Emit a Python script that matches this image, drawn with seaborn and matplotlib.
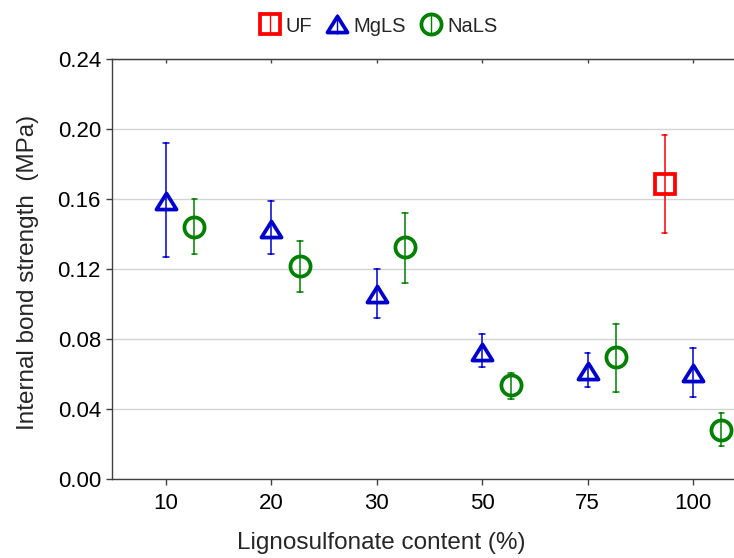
import numpy as np
import pandas as pd
import matplotlib
matplotlib.use("Agg")
import matplotlib.pyplot as plt
from matplotlib.lines import Line2D
from matplotlib.path import Path
import seaborn as sns

# categories on the x axis
contents = ["10", "20", "30", "50", "75", "100"]
resins = ["UF", "MgLS", "NaLS"]

# internal bond strength (MPa): mean, lower and upper end of error bar
mgls_mean = [0.159, 0.143, 0.106, 0.073, 0.062, 0.061]
mgls_low = [0.127, 0.129, 0.092, 0.064, 0.053, 0.047]
mgls_high = [0.192, 0.159, 0.120, 0.083, 0.072, 0.075]

nals_mean = [0.144, 0.122, 0.133, 0.054, 0.070, 0.028]
nals_low = [0.129, 0.107, 0.112, 0.046, 0.050, 0.019]
nals_high = [0.160, 0.136, 0.152, 0.061, 0.089, 0.038]

uf_content = ["100"]
uf_mean = [0.169]
uf_low = [0.141]
uf_high = [0.197]

colors = {"UF": "#FF0000", "MgLS": "#0000CC", "NaLS": "#008000"}
markers = {"UF": "s", "MgLS": "^", "NaLS": "o"}


def long_rows(resin, xs, low, mean, high):
    # three rows per point, the median is the mean and min/max are the error bar ends
    rows = []
    for x, lo, m, hi in zip(xs, low, mean, high):
        for v in (lo, m, hi):
            rows.append({"content": x, "resin": resin, "ibs": v})
    return rows


df = pd.DataFrame(
    long_rows("UF", uf_content, uf_low, uf_mean, uf_high)
    + long_rows("MgLS", contents, mgls_low, mgls_mean, mgls_high)
    + long_rows("NaLS", contents, nals_low, nals_mean, nals_high)
)

sns.set_style("ticks")
plt.rcParams["font.family"] = ["Liberation Sans", "DejaVu Sans"]

fig = plt.figure(figsize=(7.34, 5.58), dpi=100)
ax = fig.add_axes([112 / 734, 1 - 479.3 / 558, (734 - 112) / 734, (479.3 - 59.3) / 558])

sns.pointplot(
    data=df, x="content", y="ibs", hue="resin",
    order=contents, hue_order=resins, palette=colors,
    markers=[markers[r] for r in resins], linestyles="none",
    dodge=0.54, estimator="median",
    errorbar=lambda v: (v.min(), v.max()),
    capsize=0.055, err_kws={"linewidth": 1.1},
    markersize=14.5, markeredgewidth=2.7,
    legend=False, ax=ax,
)

# hollow markers, flatter triangle
tri = Path([(0, 0.8), (-1, -0.8), (1, -0.8), (0, 0.8)],
           [Path.MOVETO, Path.LINETO, Path.LINETO, Path.CLOSEPOLY])
for ln in ax.lines:
    mk = ln.get_marker()
    if mk not in ("None", None, "", "none"):
        ln.set_markerfacecolor("none")
        if mk == "^":
            ln.set_marker(tri)

ax.set_xlim(-0.512, 5.389)
ax.set_ylim(0, 0.24)
ax.set_yticks(np.arange(0, 0.241, 0.04))
ax.set_yticklabels([f"{t:.2f}" for t in np.arange(0, 0.241, 0.04)])
ax.yaxis.grid(True, color="#d4d4d4", linewidth=1.0)
ax.set_axisbelow(True)

for side in ["left", "bottom", "top"]:
    ax.spines[side].set_visible(True)
    ax.spines[side].set_color("#404040")
    ax.spines[side].set_linewidth(1.0)
ax.spines["right"].set_visible(False)

ax.tick_params(axis="both", direction="out", length=4, width=1, color="#404040",
               labelsize=16, labelcolor="black")
ax.tick_params(axis="x", pad=6)
ax.tick_params(axis="y", pad=4)

top = ax.secondary_xaxis("top")
top.set_xticks(range(len(contents)))
top.tick_params(direction="in", length=3, width=1, color="#404040", labeltop=False)
top.spines["top"].set_color("#404040")

ax.set_xlabel("Lignosulfonate content (%)", fontsize=17.5, va="center")
ax.set_ylabel("Internal bond strength  (MPa)", fontsize=17.5, va="center")
ax.xaxis.set_label_coords((381 - 112) / 622, (479.3 - 543) / 420)
ax.yaxis.set_label_coords((28 - 112) / 622, (479.3 - 272) / 420)

handles = []
for r in resins:
    h_mk = Line2D([], [], linestyle="none", marker=tri if r == "MgLS" else markers[r],
                  markersize=14.5, markeredgewidth=2.7, markerfacecolor="none",
                  markeredgecolor=colors[r])
    h_bar = Line2D([], [], linestyle="none", marker="|", markersize=15,
                   markeredgewidth=1.0, color=colors[r])
    handles.append((h_mk, h_bar))

fig.legend(handles, resins, loc="center", bbox_to_anchor=(378 / 734, 1 - 26 / 558),
           ncol=3, frameon=False, fontsize=14.5, handlelength=1.1,
           handletextpad=0.25, columnspacing=0.7, borderpad=0)

fig.savefig("out.png", dpi=100)
